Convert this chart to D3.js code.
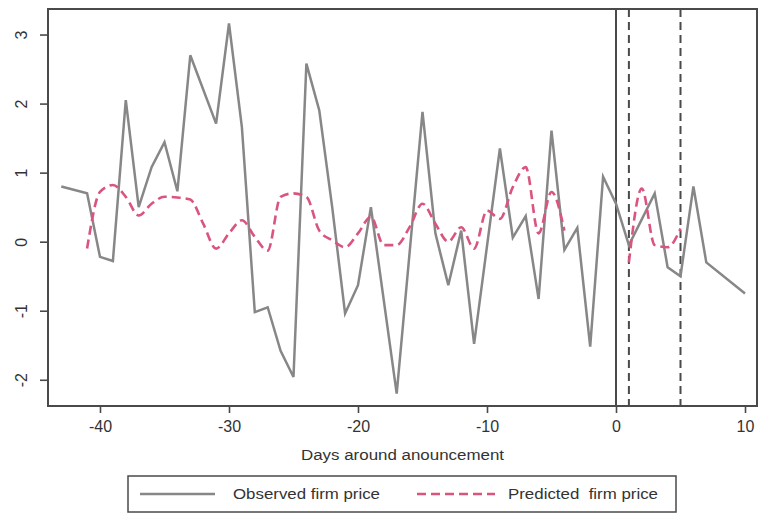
<!DOCTYPE html>
<html>
<head>
<meta charset="utf-8">
<script src="https://cdn.jsdelivr.net/npm/d3@7"></script>
<style>
  html, body { margin: 0; padding: 0; background: #fff; }
  svg { display: block; font-family: "Liberation Sans", Arial, sans-serif; }
</style>
</head>
<body>
<script>
// ---- Data ----
const observedDays = [-43,-41,-40,-39,-38,-37,-36,-35,-34,-33,-31,-30,-29,-28,-27,-26,-25,-24,-23,-22,-21,-20,-19,-17,-15,-14,-13,-12,-11,-9,-8,-7,-6,-5,-4,-3,-2,-1,0,1,3,4,5,6,7,10];
const observedValues = [0.80,0.70,-0.22,-0.28,2.05,0.50,1.08,1.44,0.73,2.70,1.71,3.16,1.66,-1.02,-0.95,-1.58,-1.96,2.58,1.90,0.50,-1.04,-0.63,0.50,-2.20,1.88,0.12,-0.63,0.16,-1.48,1.35,0.06,0.37,-0.83,1.61,-0.12,0.20,-1.52,0.94,0.55,-0.05,0.70,-0.37,-0.50,0.80,-0.30,-0.75];

const predictedDays = [-41,-40,-39,-38,-37,-36,-35,-34,-33,-32,-31,-30,-29,-28,-27,-26,-25,-24,-23,-22,-21,-20,-19,-18,-17,-16,-15,-14,-13,-12,-11,-10,-9,-8,-7,-6,-5,-4,-3,-2,-1,0,1,2,3,4,5];
const predictedValues = [-0.10,0.72,0.82,0.65,0.38,0.55,0.65,0.64,0.61,0.26,-0.10,0.12,0.31,0.07,-0.13,0.65,0.70,0.65,0.16,0.02,-0.08,0.12,0.36,-0.05,-0.05,0.21,0.55,0.26,0.00,0.21,-0.10,0.45,0.33,0.79,1.08,0.12,0.72,0.16,null,null,null,null,-0.30,0.77,-0.05,-0.08,0.19];

const eventLineSolid = [0];
const eventLinesDashed = [1, 5];

const xTicks = [-40,-30,-20,-10,0,10];
const yTicks = [-2,-1,0,1,2,3];

const xTitle = "Days around anouncement";
const legendLabels = ["Observed firm price", "Predicted  firm price"];

// ---- Layout ----
const W = 758, H = 514;
const plot = { left: 48, right: 757, top: 9, bottom: 406 };

const svg = d3.select("body").append("svg").attr("width", W).attr("height", H);
svg.append("rect").attr("width", W).attr("height", H).attr("fill", "#fff");

const x = d3.scaleLinear().domain([-44.03, 10.93]).range([plot.left, plot.right]);
const y = d3.scaleLinear().domain([-2.38, 3.37]).range([plot.bottom, plot.top]);

const axisColor = "#4a4a4a";
const textColor = "#333";

// Event lines
svg.selectAll(".evs").data(eventLineSolid).enter().append("line")
  .attr("x1", d => x(d)).attr("x2", d => x(d))
  .attr("y1", plot.top).attr("y2", plot.bottom)
  .attr("stroke", axisColor).attr("stroke-width", 2);
svg.selectAll(".evd").data(eventLinesDashed).enter().append("line")
  .attr("x1", d => x(d)).attr("x2", d => x(d))
  .attr("y1", plot.top).attr("y2", plot.bottom)
  .attr("stroke", axisColor).attr("stroke-width", 2)
  .attr("stroke-dasharray", "8,5");

// Observed line
const obs = observedDays.map((d, i) => ({ d, v: observedValues[i] }));
svg.append("path").datum(obs)
  .attr("fill", "none").attr("stroke", "#878787").attr("stroke-width", 2.5)
  .attr("stroke-linejoin", "miter")
  .attr("d", d3.line().x(p => x(p.d)).y(p => y(p.v)));

// Predicted line
const pred = predictedDays.map((d, i) => ({ d, v: predictedValues[i] }));
svg.append("path").datum(pred)
  .attr("fill", "none").attr("stroke", "#d9557d").attr("stroke-width", 2.6)
  .attr("stroke-dasharray", "9,5")
  .attr("d", d3.line().defined(p => p.v !== null).curve(d3.curveMonotoneX)
    .x(p => x(p.d)).y(p => y(p.v)));

// Frame
svg.append("rect")
  .attr("x", plot.left).attr("y", plot.top)
  .attr("width", plot.right - plot.left).attr("height", plot.bottom - plot.top)
  .attr("fill", "none").attr("stroke", axisColor).attr("stroke-width", 2);

// X axis
const gx = svg.append("g").attr("transform", `translate(0,${plot.bottom})`)
  .call(d3.axisBottom(x).tickValues(xTicks).tickSize(7).tickPadding(8).tickFormat(d3.format("d")));
gx.select(".domain").remove();
gx.selectAll(".tick line").attr("stroke", axisColor).attr("stroke-width", 1.6);
gx.selectAll(".tick text").attr("fill", textColor).attr("font-size", 16)
  .attr("font-family", "Liberation Sans, Arial, sans-serif")
  .text(d => d < 0 ? "-" + Math.abs(d) : String(d));

// Y axis
const gy = svg.append("g").attr("transform", `translate(${plot.left},0)`)
  .call(d3.axisLeft(y).tickValues(yTicks).tickSize(8).tickFormat(d3.format("d")));
gy.select(".domain").remove();
gy.selectAll(".tick line").attr("stroke", axisColor).attr("stroke-width", 1.6);
gy.selectAll(".tick text").attr("fill", textColor).attr("font-size", 16)
  .attr("font-family", "Liberation Sans, Arial, sans-serif")
  .attr("text-anchor", "middle").attr("dy", null).attr("x", null)
  .attr("transform", "translate(-27,0) rotate(-90)")
  .attr("dy", "0.35em")
  .text(d => d < 0 ? "-" + Math.abs(d) : String(d));

// X title
svg.append("text")
  .attr("x", (x(-40) + x(10)) / 2 - 20).attr("y", 460)
  .attr("text-anchor", "middle").attr("fill", textColor).attr("font-size", 14)
  .attr("textLength", 203).attr("lengthAdjust", "spacingAndGlyphs")
  .text(xTitle);

// Legend
const lg = svg.append("g");
lg.append("rect").attr("x", 128).attr("y", 476).attr("width", 548).attr("height", 36)
  .attr("fill", "#fff").attr("stroke", axisColor).attr("stroke-width", 1.5);
lg.append("line").attr("x1", 140).attr("x2", 215).attr("y1", 494).attr("y2", 494)
  .attr("stroke", "#878787").attr("stroke-width", 2.5);
lg.append("text").attr("x", 233).attr("y", 499).attr("fill", textColor).attr("font-size", 14)
  .attr("textLength", 147).attr("lengthAdjust", "spacingAndGlyphs")
  .text(legendLabels[0]);
lg.append("line").attr("x1", 417).attr("x2", 495).attr("y1", 494).attr("y2", 494)
  .attr("stroke", "#d9557d").attr("stroke-width", 2.6).attr("stroke-dasharray", "9,5");
lg.append("text").attr("x", 508).attr("y", 499).attr("fill", textColor).attr("font-size", 14)
  .attr("textLength", 150).attr("lengthAdjust", "spacingAndGlyphs")
  .style("white-space", "pre")
  .text(legendLabels[1]);
</script>
</body>
</html>
